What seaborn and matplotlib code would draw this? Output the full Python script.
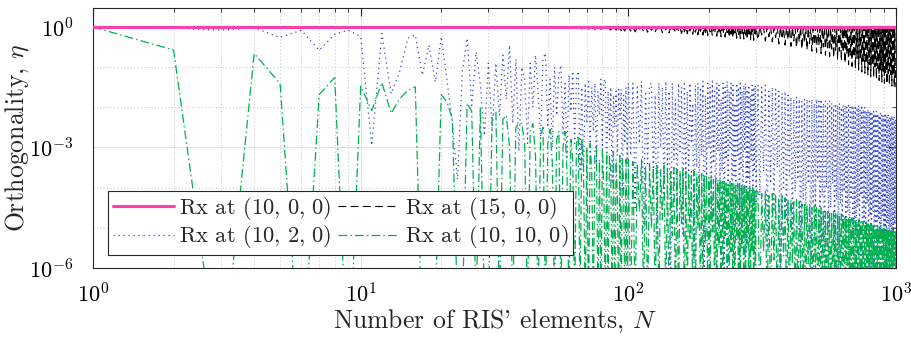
import numpy as np
import pandas as pd
import matplotlib
matplotlib.use("Agg")
import matplotlib.pyplot as plt
import seaborn as sns
from matplotlib.ticker import FixedLocator, NullFormatter, LogFormatterSciNotation

# ---------------- data (log10 of orthogonality) ----------------
N_seg_a = list(range(1, 31))            # N = 1..30
N_seg_b = list(range(31, 101))          # N = 31..100
N_seg_c = list(range(102, 301, 2))      # N = 102..300
N_seg_d = list(range(305, 1001, 5))     # N = 305..1000
N_values = N_seg_a + N_seg_b + N_seg_c + N_seg_d

pink_log = [0.0] * len(N_values)        # Rx at (10,0,0): eta = 1 for all N

black_log = [
    # 1..30
    0, 0, 0, 0, 0, 0, 0, 0, 0, 0,
    0, 0, 0, 0, 0, 0, 0, 0, 0, 0,
    0, 0, 0, 0, 0, 0, 0, 0, 0, 0,
    # 31..100
    0, 0, -0.005, 0, 0, -0.01, 0, 0, -0.01, 0,
    0, -0.015, 0, 0, -0.02, 0, -0.01, 0, -0.025, 0,
    -0.01, 0, -0.03, 0, 0, -0.035, 0, -0.02, 0, -0.04,
    0, -0.03, 0, -0.045, 0, -0.02, -0.05, 0, -0.04, 0,
    -0.055, 0, -0.03, 0, -0.06, 0, -0.045, 0, -0.065, 0,
    -0.04, 0, -0.07, 0, -0.05, -0.075, 0, -0.06, 0, -0.08,
    0, -0.07, 0, -0.09, 0, -0.06, -0.1, 0, -0.08, 0,
    # 102..300
    -0.1, 0, -0.12, -0.01, -0.06, 0, -0.11, 0, -0.13, -0.01,
    -0.08, 0, -0.13, 0, -0.1, -0.01, -0.14, 0, -0.07, 0,
    -0.14, -0.01, -0.11, 0, -0.15, 0, -0.09, -0.01, -0.16, 0,
    -0.12, 0, -0.17, -0.01, -0.1, 0, -0.18, 0, -0.13, -0.01,
    -0.19, 0, -0.11, 0, -0.2, -0.01, -0.14, 0, -0.21, 0,
    -0.12, -0.01, -0.22, 0, -0.16, 0, -0.23, -0.01, -0.13, 0,
    -0.24, 0, -0.17, -0.01, -0.25, 0, -0.14, 0, -0.26, -0.01,
    -0.18, 0, -0.27, 0, -0.15, -0.01, -0.28, 0, -0.19, 0,
    -0.29, -0.01, -0.16, 0, -0.3, 0, -0.2, -0.01, -0.31, 0,
    -0.17, 0, -0.32, -0.01, -0.21, 0, -0.33, 0, -0.18, -0.01,
    # 305..1000
    -0.32, 0, -0.2, -0.01, -0.35, 0, -0.24, 0, -0.37, -0.02,
    -0.26, 0, -0.42, 0, -0.3, -0.02, -0.45, 0, -0.32, -0.01,
    -0.48, 0, -0.35, -0.02, -0.51, 0, -0.38, 0, -0.55, -0.02,
    -0.4, 0, -0.57, -0.01, -0.42, 0, -0.6, -0.02, -0.45, 0,
    -0.63, 0, -0.46, -0.02, -0.66, 0, -0.5, 0, -0.7, -0.02,
    -0.52, 0, -0.73, -0.01, -0.55, 0, -0.77, -0.02, -0.58, 0,
    -0.81, 0, -0.6, -0.02, -0.85, 0, -0.64, 0, -0.9, -0.02,
    -0.68, 0, -0.94, -0.01, -0.72, 0, -0.98, -0.02, -0.75, 0,
    -1.03, 0, -0.78, -0.02, -1.07, 0, -0.82, 0, -1.12, -0.02,
    -0.85, 0, -1.15, -0.01, -0.9, 0, -1.19, -0.02, -0.93, 0,
    -1.23, 0, -0.96, -0.02, -1.26, 0, -1.0, 0, -1.3, -0.02,
    -1.03, 0, -1.33, -0.01, -1.07, 0, -1.37, -0.02, -1.1, 0,
    -1.4, 0, -1.13, -0.02, -1.42, 0, -1.16, 0, -1.45, -0.02,
    -1.18, 0, -1.47, -0.01, -1.2, 0, -1.5, -0.02, -1.25, -1.5,
]

blue_log = [
    # 1..30
    0.0, -0.03, -0.08, -0.02, -0.26, -0.08, -0.58, -0.18, -0.08, -0.24,
    -2.95, -0.16, -1.66, -1.1, -0.28, -0.2, -1.2, -0.45, -1.37, -0.24,
    -1.3, -2.37, -3.8, -1.1, -0.28, -1.95, -0.62, -1.45, -2.7, -0.9,
    # 31..100
    -2.6, -0.9, -2.2, -0.7, -1.8, -0.45, -2.4, -0.8, -3.1, -1.0,
    -1.3, -2.9, -0.9, -2.0, -0.7, -1.6, -2.8, -0.8, -0.65, -2.5,
    -1.3, -3.0, -1.0, -2.2, -1.2, -0.95, -2.7, -1.4, -3.3, -1.2,
    -2.1, -1.1, -2.9, -1.3, -1.1, -3.6, -1.5, -3.7, -1.4, -2.4,
    -1.3, -3.1, -1.5, -2.6, -1.4, -3.4, -1.6, -2.2, -1.3, -3.0,
    -1.35, -1.3, -3.5, -1.6, -2.8, -1.5, -3.9, -1.7, -2.5, -1.6,
    -3.2, -1.55, -2.3, -1.55, -4.1, -1.7, -2.9, -1.5, -3.4, -1.4,
    # 102..300
    -3.2, -1.4, -4.5, -1.5, -2.9, -1.35, -5.0, -1.6, -3.4, -1.45,
    -1.4, -3.8, -1.7, -5.5, -1.4, -3.0, -1.5, -4.2, -1.35, -3.6,
    -1.6, -6.5, -1.4, -3.3, -1.8, -4.6, -1.4, -3.1, -1.5, -5.2,
    -1.35, -3.7, -1.6, -4.0, -1.4, -2.9, -1.9, -5.8, -1.45, -3.5,
    -1.4, -4.4, -1.5, -3.2, -1.35, -6.2, -1.7, -3.9, -1.4, -3.0,
    -1.5, -4.8, -1.35, -3.4, -1.6, -5.3, -1.4, -3.1, -1.45, -4.1,
    -1.8, -3.6, -1.4, -6.0, -1.5, -3.3, -1.35, -4.5, -1.6, -3.0,
    -1.4, -5.1, -1.45, -3.7, -1.9, -4.2, -1.4, -3.2, -1.5, -6.4,
    -1.4, -3.5, -1.6, -4.7, -1.45, -3.1, -1.4, -5.6, -1.55, -3.8,
    -1.45, -4.3, -1.7, -3.3, -1.45, -5.0, -1.5, -3.6, -1.45, -4.4,
    # 305..1000
    -1.45, -4.2, -1.5, -3.6, -1.45, -5.5, -1.6, -3.9, -1.5, -4.6,
    -1.55, -3.5, -1.6, -6.3, -1.65, -4.0, -1.6, -4.8, -1.7, -3.7,
    -1.75, -5.2, -1.8, -4.1, -1.75, -3.8, -1.8, -5.9, -1.85, -4.3,
    -1.8, -4.9, -1.8, -3.9, -1.85, -6.1, -1.8, -4.4, -1.9, -5.0,
    -1.8, -3.8, -1.85, -5.4, -1.8, -4.2, -1.9, -6.4, -1.85, -4.0,
    -1.9, -5.1, -1.85, -4.5, -1.9, -3.9, -1.95, -5.7, -1.9, -4.3,
    -1.95, -6.0, -1.9, -4.4, -2.0, -5.0, -1.95, -4.1, -1.95, -5.6,
    -2.0, -4.6, -1.95, -6.2, -2.0, -4.3, -1.95, -5.2, -2.0, -4.8,
    -1.95, -5.9, -2.0, -4.5, -1.95, -5.3, -2.05, -4.2, -1.95, -6.3,
    -2.05, -4.9, -2.0, -5.5, -2.1, -4.4, -2.05, -6.0, -2.1, -4.7,
    -2.1, -5.4, -2.15, -4.6, -2.1, -6.2, -2.15, -4.9, -2.1, -5.7,
    -2.15, -4.8, -2.2, -6.0, -2.15, -5.1, -2.2, -4.7, -2.2, -5.8,
    -2.2, -5.3, -2.2, -6.4, -2.25, -4.9, -2.2, -5.6, -2.25, -5.0,
    -2.25, -6.1, -2.2, -5.2, -2.3, -5.7, -2.25, -4.9, -2.3, -6.0,
]

green_log = [
    # 1..30
    0.0, -0.575, -9.0, -0.66, -1.41, -9.0, -1.68, -1.26, -9.0, -1.475,
    -2.08, -1.38, -2.15, -1.78, -1.58, -1.49, -8.0, -8.0, -7.0, -1.68,
    -1.87, -2.28, -7.0, -7.0, -1.9, -2.1, -7.0, -2.0, -7.0, -7.0,
    # 31..100
    -2.2, -2.1, -7.0, -2.3, -2.2, -3.0, -7.0, -2.5, -2.4, -2.4,
    -2.9, -7.0, -2.6, -2.4, -3.2, -7.0, -2.7, -2.5, -7.0, -2.9,
    -2.55, -3.4, -7.0, -2.8, -2.6, -7.0, -3.0, -2.6, -3.6, -7.0,
    -2.8, -3.3, -7.0, -2.9, -2.7, -7.0, -2.8, -3.5, -7.0, -3.0,
    -7.0, -2.9, -3.6, -7.0, -3.0, -3.0, -7.0, -3.3, -7.0, -3.0,
    -4.0, -7.0, -3.1, -7.0, -3.2, -3.6, -7.0, -3.1, -7.0, -3.3,
    -4.2, -7.0, -3.2, -7.0, -3.3, -3.9, -7.0, -3.3, -7.0, -3.3,
    # 102..300
    -7.0, -3.35, -7.0, -3.4, -4.6, -3.3, -7.0, -3.45, -7.0, -3.4,
    -5.0, -3.5, -7.0, -3.4, -7.0, -3.55, -4.8, -3.45, -7.0, -3.5,
    -7.0, -3.6, -5.2, -3.5, -7.0, -3.55, -7.0, -3.6, -4.9, -3.55,
    -7.0, -3.6, -7.0, -3.65, -5.3, -3.6, -7.0, -3.6, -7.0, -3.65,
    -5.0, -3.7, -7.0, -3.65, -7.0, -3.7, -5.4, -3.7, -7.0, -3.75,
    -7.0, -3.7, -5.1, -3.8, -7.0, -3.75, -7.0, -3.8, -5.5, -3.8,
    -7.0, -3.85, -7.0, -3.8, -5.2, -3.85, -7.0, -3.9, -7.0, -3.85,
    -5.6, -3.9, -7.0, -3.9, -7.0, -3.95, -5.3, -3.9, -7.0, -3.95,
    -7.0, -3.95, -5.5, -4.0, -7.0, -3.95, -7.0, -4.0, -5.4, -4.0,
    -7.0, -4.0, -7.0, -4.05, -5.6, -4.0, -7.0, -4.05, -7.0, -4.1,
    # 305..1000
    -4.1, -7.0, -4.15, -5.6, -4.1, -7.0, -4.2, -7.0, -4.15, -5.8,
    -4.2, -7.0, -4.25, -7.0, -4.2, -5.7, -4.25, -7.0, -4.3, -7.0,
    -4.3, -5.9, -4.35, -7.0, -4.3, -7.0, -4.35, -6.0, -4.4, -7.0,
    -4.4, -7.0, -4.45, -5.9, -4.4, -7.0, -4.5, -7.0, -4.45, -6.1,
    -4.5, -7.0, -4.55, -7.0, -4.5, -6.0, -4.55, -7.0, -4.6, -7.0,
    -4.6, -6.2, -4.6, -7.0, -4.65, -7.0, -4.6, -6.1, -4.65, -7.0,
    -4.65, -7.0, -4.7, -6.2, -4.65, -7.0, -4.7, -7.0, -4.7, -6.3,
    -4.75, -7.0, -4.75, -7.0, -4.8, -6.2, -4.75, -7.0, -4.8, -7.0,
    -4.8, -6.4, -4.85, -7.0, -4.8, -7.0, -4.85, -6.3, -4.85, -7.0,
    -4.85, -7.0, -4.9, -6.4, -4.85, -7.0, -4.9, -7.0, -4.9, -6.5,
    -4.9, -7.0, -4.95, -7.0, -4.9, -6.4, -4.95, -7.0, -5.0, -7.0,
    -4.95, -6.5, -5.0, -7.0, -4.95, -7.0, -5.0, -6.5, -5.0, -7.0,
    -5.0, -7.0, -5.05, -6.6, -5.0, -7.0, -5.05, -7.0, -5.05, -6.6,
    -5.05, -7.0, -5.1, -7.0, -5.05, -6.6, -5.1, -7.0, -5.1, -7.0,
]

series_labels = [r"Rx at $(10,\,0,\,0)$", r"Rx at $(10,\,2,\,0)$",
                 r"Rx at $(15,\,0,\,0)$", r"Rx at $(10,\,10,\,0)$"]

# ---------------- style ----------------
sns.set_theme(style="white")
plt.rcParams.update({
    "font.family": ["cmr10", "DejaVu Serif"],
    "mathtext.fontset": "cm",
    "axes.formatter.use_mathtext": True,
    "axes.unicode_minus": False,
})
FS_TICK = 16
FS_LABEL = 18.5
FS_LEG = 16.2

fig = plt.figure(figsize=(9.12, 3.41), dpi=100)
ax = fig.add_axes([93 / 912, 1 - 268 / 341, (896 - 93) / 912, (268 - 7.7) / 341])


def make_frame(vals):
    n = min(len(N_values), len(vals))
    return pd.DataFrame({"N": N_values[:n], "eta": 10.0 ** np.asarray(vals[:n], dtype=float)})


df_pink = make_frame(pink_log)
df_blue = make_frame(blue_log)
df_black = make_frame(black_log)
df_green = make_frame(green_log)

c_pink = "#ff40aa"
c_blue = "#3346d6"
c_black = "#000000"
c_green = "#00b050"

sns.lineplot(data=df_black, x="N", y="eta", ax=ax, color=c_black, lw=0.8,
             linestyle=(0, (7, 4)), estimator=None, sort=False, zorder=3,
             label=series_labels[2])
sns.lineplot(data=df_blue, x="N", y="eta", ax=ax, color=c_blue, lw=0.9,
             linestyle=(0, (1, 3)), estimator=None, sort=False, zorder=2,
             label=series_labels[1])
sns.lineplot(data=df_green, x="N", y="eta", ax=ax, color=c_green, lw=0.9,
             linestyle=(0, (7, 2.5, 1.2, 2.5)), estimator=None, sort=False, zorder=4,
             label=series_labels[3])
sns.lineplot(data=df_pink, x="N", y="eta", ax=ax, color=c_pink, lw=2.2,
             estimator=None, sort=False, zorder=5, label=series_labels[0])

ax.set_xscale("log")
ax.set_yscale("log")
ax.set_xlim(1, 1000)
ax.set_ylim(1e-6, 10 ** 0.48)

ax.yaxis.set_major_locator(FixedLocator([1e-6, 1e-3, 1e0]))
ax.yaxis.set_minor_locator(FixedLocator([1e-5, 1e-4, 1e-2, 1e-1]))
ax.yaxis.set_minor_formatter(NullFormatter())
ax.yaxis.set_major_formatter(LogFormatterSciNotation())

ax.grid(which="major", color="#dcdcdc", linestyle="-", linewidth=0.6)
ax.grid(which="minor", color="#c4c4c4", linestyle=(0, (1, 2.5)), linewidth=0.7)
ax.set_axisbelow(True)

for sp in ax.spines.values():
    sp.set_color("#262626")
    sp.set_linewidth(0.8)
    sp.set_visible(True)

ax.tick_params(which="both", direction="in", top=True, right=True, colors="#262626",
               labelsize=FS_TICK, labelcolor="black")
ax.tick_params(which="major", length=6, width=0.8)
ax.tick_params(axis="x", which="major", pad=10)
ax.tick_params(axis="y", which="major", pad=14)
ax.tick_params(which="minor", length=3, width=0.6)

ax.set_xlabel(r"Number of RIS' elements, $N$", fontsize=FS_LABEL, labelpad=1)
ax.set_ylabel(r"Orthogonality, $\eta$", fontsize=FS_LABEL)
ax.yaxis.set_label_coords(-0.077, 0.5)

# legend: order pink, blue | black, green
h, l = ax.get_legend_handles_labels()
lookup = {lab: hh for hh, lab in zip(h, l)}
handles = [lookup[s] for s in series_labels]
leg = ax.legend(handles, series_labels,
                ncol=2, loc="lower left", bbox_to_anchor=(0.019, 0.05),
                borderaxespad=0, fontsize=FS_LEG, frameon=True, fancybox=False,
                framealpha=1, edgecolor="#262626", handlelength=2.7,
                handletextpad=0.25, columnspacing=0.3, labelspacing=0.05,
                borderpad=0.2)
leg.get_frame().set_linewidth(0.8)
leg.set_zorder(10)

fig.savefig("out.png", dpi=100)
